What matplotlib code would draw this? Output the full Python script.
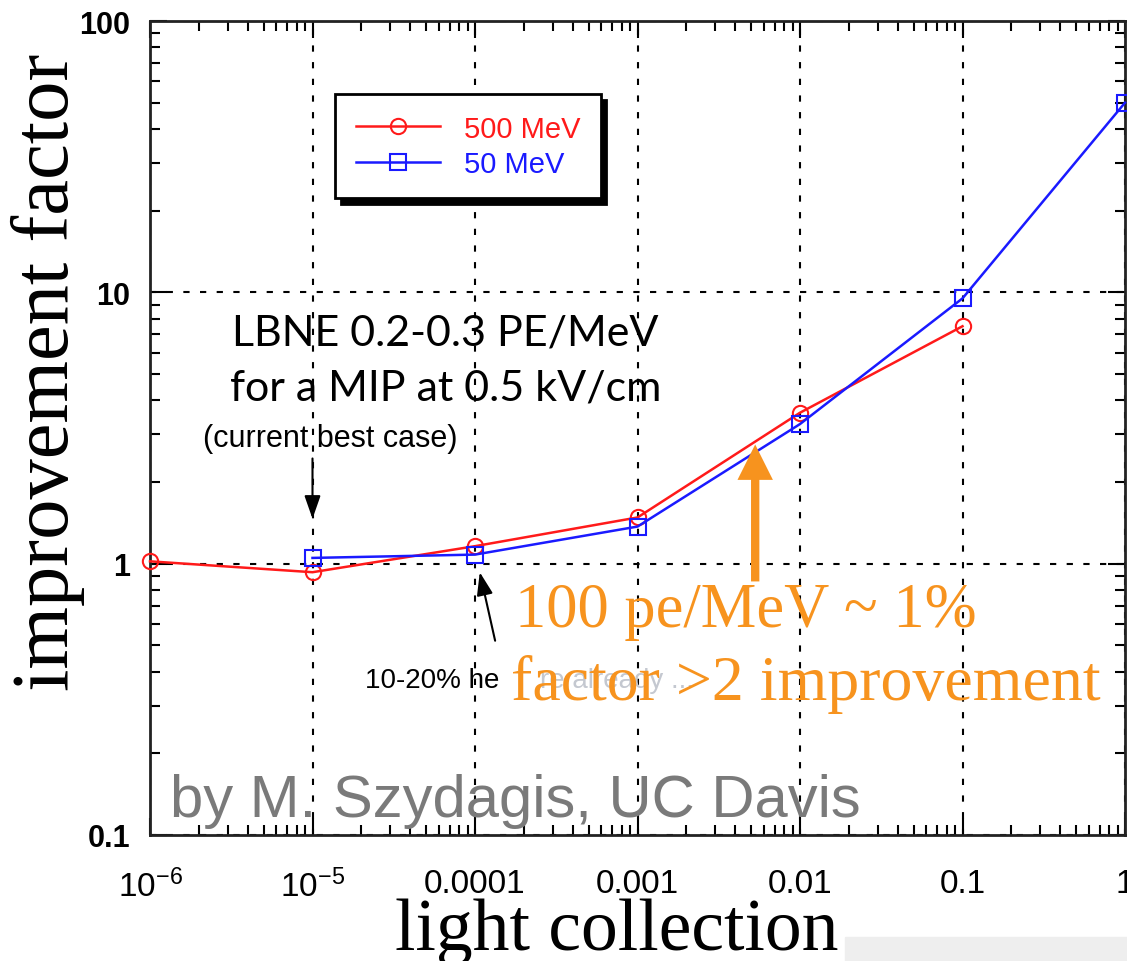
import numpy as np
import matplotlib
matplotlib.use("Agg")
import matplotlib.pyplot as plt
from matplotlib.ticker import NullFormatter, FixedLocator
from matplotlib.patches import Rectangle

plt.rcParams['font.family'] = ['Liberation Sans', 'DejaVu Sans']
plt.rcParams['mathtext.default'] = 'regular'
plt.rcParams['axes.unicode_minus'] = False

# data
x_500 = [1e-6, 1e-5, 1e-4, 1e-3, 1e-2, 1e-1]
y_500 = [1.02, 0.93, 1.16, 1.48, 3.6, 7.5]
x_50 = [1e-5, 1e-4, 1e-3, 1e-2, 1e-1, 1]
y_50 = [1.05, 1.08, 1.37, 3.27, 9.5, 50]

xticks = [1e-6, 1e-5, 1e-4, 1e-3, 1e-2, 1e-1, 1]
xlabels = ['10$^{-6}$', '10$^{-5}$', '0.0001', '0.001', '0.01', '0.1', '1']
yticks = [0.1, 1, 10, 100]
ylabels = ['0.1', '1', '10', '100']

orange = '#F7931E'

fig = plt.figure(figsize=(11.27, 9.62), dpi=100)
ax = fig.add_axes([150/1127, 126/962, 975/1127, 814/962])

ax.plot(x_500, y_500, color='#ff1a1a', lw=1.8, marker='o', ms=11, mfc='none',
        mew=1.5, label='500 MeV', clip_on=False, zorder=5)
ax.plot(x_50, y_50, color='#1a1aff', lw=1.8, marker='s', ms=12, mfc='none',
        mew=1.5, label='50 MeV', clip_on=False, zorder=5)

ax.set_xscale('log')
ax.set_yscale('log')
ax.set_xlim(1e-6, 1)
ax.set_ylim(0.1, 100)

ax.xaxis.set_major_locator(FixedLocator(xticks))
ax.set_xticklabels(xlabels, fontsize=24)
ax.yaxis.set_major_locator(FixedLocator(yticks))
ax.set_yticklabels(ylabels, fontsize=22, fontweight='bold')
ax.xaxis.set_minor_formatter(NullFormatter())
ax.yaxis.set_minor_formatter(NullFormatter())

ax.tick_params(which='both', direction='in', top=True, right=True, width=1.5)
ax.tick_params(which='major', length=12)
ax.tick_params(which='minor', length=7)
ax.tick_params(axis='x', which='major', pad=24)
ax.tick_params(axis='y', which='major', pad=14)
for s in ax.spines.values():
    s.set_linewidth(2)
    s.set_color('#222222')

ax.grid(True, which='major', color='k', linestyle=(0, (3, 5)), linewidth=1.5)

leg = ax.legend(loc='upper left', bbox_to_anchor=(0.19, 0.91), borderaxespad=0,
                fontsize=21, handlelength=2.9, fancybox=False, framealpha=1,
                edgecolor='k', borderpad=0.7, labelspacing=0.25,
                shadow={'ox': 4, 'oy': -4, 'color': 'k', 'alpha': 1})
leg.get_frame().set_linewidth(2)
for t, c in zip(leg.get_texts(), ['#ff1a1a', '#1a1aff']):
    t.set_color(c)

# annotations
ax.text(0.303, 0.602, 'LBNE 0.2-0.3 PE/MeV', transform=ax.transAxes, ha='center',
        va='baseline', fontsize=31, family=['Lato', 'DejaVu Sans'])
ax.text(0.303, 0.535, 'for a MIP at 0.5 kV/cm', transform=ax.transAxes, ha='center',
        va='baseline', fontsize=31, family=['Lato', 'DejaVu Sans'])
ax.text(0.185, 0.488, '(current best case)', transform=ax.transAxes, ha='center',
        va='center', fontsize=22)
ax.annotate('', xy=(1e-5, 1.43), xytext=(1e-5, 2.5),
            arrowprops=dict(arrowstyle='-|>,head_width=0.35,head_length=1.0',
                            color='k', lw=1.5, mutation_scale=14))
ax.text(0.221, 0.19, '10-20% he', transform=ax.transAxes, ha='left',
        va='center', fontsize=20)
ax.text(0.400, 0.19, 're already ...', transform=ax.transAxes, ha='left',
        va='center', fontsize=20, color='#c4c8d0')
ax.annotate('', xy=(1.07e-4, 0.93), xytext=(1.33e-4, 0.52),
            arrowprops=dict(arrowstyle='-|>,head_width=0.35,head_length=1.0',
                            color='k', lw=1.5, mutation_scale=14, shrinkA=0, shrinkB=0))

ax.annotate('', xy=(5.3e-3, 2.75), xytext=(5.3e-3, 0.86),
            arrowprops=dict(arrowstyle='simple,head_length=0.85,head_width=0.85,tail_width=0.2',
                            fc=orange, ec='none', mutation_scale=30, shrinkA=0, shrinkB=0),
            zorder=6)
ax.text(0.374, 0.257, '100 pe/MeV ~ 1%', transform=ax.transAxes, ha='left',
        va='baseline', fontsize=45, color=orange, family=['Liberation Serif'], zorder=7)
ax.text(0.370, 0.167, 'factor >2 improvement', transform=ax.transAxes, ha='left',
        va='baseline', fontsize=46, color=orange, family=['Liberation Serif'], zorder=7)

ax.text(0.021, 0.0233, 'by M. Szydagis, UC Davis', transform=ax.transAxes, ha='left',
        va='baseline', fontsize=43, color='#7a7a7a')

fig.text(48/1127, 1 - 372/962, 'improvement factor', rotation=90, ha='center',
         va='center', fontsize=58, family=['Liberation Serif'])
fig.text(617/1127, 1 - 950/962, 'light collection', ha='center', va='baseline',
         fontsize=53, family=['Liberation Serif'])
fig.patches.append(Rectangle((845/1127, 0), 282/1127, 24/962, transform=fig.transFigure,
                             color='#eeeeee', zorder=0))

fig.savefig('out.png', dpi=100)
